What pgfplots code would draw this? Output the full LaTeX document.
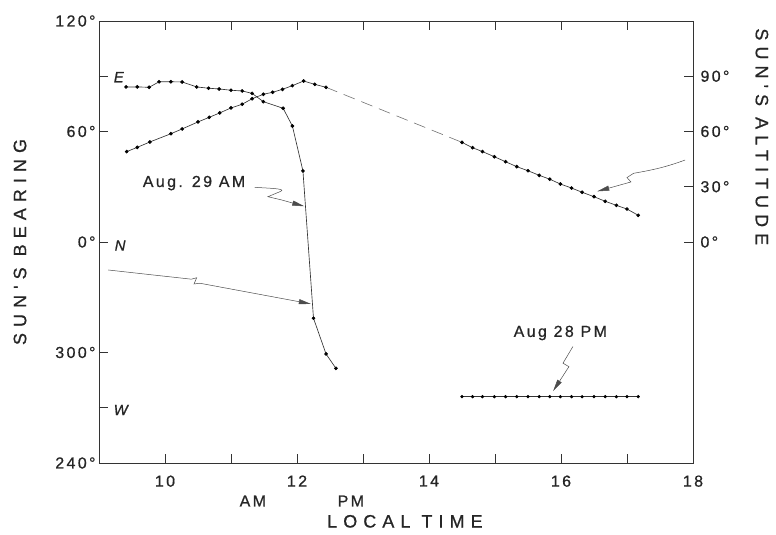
\documentclass[border=0pt]{standalone}
\usepackage{pgfplots}
\pgfplotsset{compat=1.18}
\usepackage{fontspec}
\setmainfont{Liberation Sans}[FakeBold=0.8]
\newfontfamily\tickfont[LetterSpace=15,FakeBold=0.8]{Liberation Sans}
\newfontfamily\titlefont[LetterSpace=34,FakeBold=0.8]{Liberation Sans}
\usetikzlibrary{arrows.meta}

\pgfplotstableread{
t b
9.41 84.2
9.58 84.2
9.76 84.0
9.91 87.0
10.09 87.0
10.26 86.9
10.48 84.2
10.66 83.5
10.82 83.1
11.00 82.4
11.17 82.0
11.32 80.7
11.49 76.2
11.79 72.6
11.93 63.0
12.09 38.6
12.25 -41.4
12.44 -60.8
12.59 -68.6
}\bearAM

\pgfplotstableread{
t a
9.42 49.1
9.58 51.4
9.77 54.3
10.09 58.8
10.26 61.4
10.50 65.2
10.67 67.7
10.83 70.1
11.00 72.8
11.17 74.8
11.32 77.8
11.49 80.2
11.63 81.3
11.78 82.9
11.93 84.9
12.10 87.4
12.27 85.6
12.44 84.0
}\altAM

\pgfplotstableread{
t a b
14.50 54.1 -84
14.66 51.2 -84
14.81 49.1 -84
14.99 46.3 -84
15.16 43.6 -84
15.33 40.9 -84
15.50 38.7 -84
15.67 36.2 -84
15.83 34.1 -84
15.99 31.5 -84
16.16 29.3 -84
16.32 27.0 -84
16.50 24.6 -84
16.67 22.1 -84
16.84 19.9 -84
17.00 17.9 -84
17.17 14.5 -84
}\pm

\begin{document}
\begin{tikzpicture}
\useasboundingbox (-99bp,-72bp) rectangle (677bp,463bp);
\pgfplotsset{
  common/.style={
    at={(0,0)}, anchor=south west,
    scale only axis, width=594bp, height=442bp,
    xmin=9, xmax=18, ymin=-120, ymax=120,
    tick align=inside, major tick length=9bp,
    every tick/.style={black!80, line width=0.7bp},
    tick label style={font=\tickfont\fontsize{16}{18}\selectfont, black!85},
  },
  dat/.style={black!80, line width=0.65bp, mark=*, mark size=1.5bp,
    mark options={black, solid}},
}
\begin{axis}[common,
  clip=false,
  axis line style={black!80, line width=0.8bp},
  xtick={10,...,18}, xticklabels={10,,12,,14,,16,,18},
  xtick pos=both, xticklabel pos=lower,
  ytick={-120,-90,-60,0,60,90,120},
  yticklabels={240°,,300°,0°,60°,,120°},
  ytick pos=left,
  xticklabel style={yshift=-9bp},
  ylabel={\titlefont SUN'S BEARING},
  ylabel style={at={(axis description cs:-0.133,0.5)}, anchor=center,
    font=\fontsize{18}{20}\selectfont, black!85},
]
\addplot[dat] table[x=t,y=b] {\bearAM};
\addplot[dat] table[x=t,y=a] {\altAM};
\addplot[dat] table[x=t,y=a] {\pm};
\addplot[dat, mark size=1.3bp] table[x=t,y=b] {\pm};
\addplot[black!55, line width=0.6bp, dash pattern=on 12bp off 7bp]
  coordinates {(12.44,84.0) (14.50,54.1)};

% compass letters
\node[font=\itshape\fontsize{15}{16}\selectfont, black!85] at (9.30,89.5) {E};
\node[font=\itshape\fontsize{15}{16}\selectfont, black!85] at (9.32,-1.9) {N};
\node[font=\itshape\fontsize{15}{16}\selectfont, black!85] at (9.33,-91.2) {W};

% annotations
\node[font=\tickfont\fontsize{16}{18}\selectfont, black!85] at (10.44,32.0) {Aug. 29 AM};
\draw[black!70, line width=0.5bp, -{Triangle[length=12bp,width=5bp]}]
  (11.36,29.7) to[out=-5,in=20] (11.74,27.3) -- (11.56,24.6)
  -- (11.77,22.8) -- (12.11,19.4);

\draw[black!70, line width=0.5bp, -{Triangle[length=12bp,width=5bp]}]
  (9.14,-15.2) -- (10.40,-20.2) -- (10.48,-19.4) -- (10.44,-22.8)
  -- (10.53,-22.4) -- (12.21,-33.6);

\draw[black!70, line width=0.5bp, -{Triangle[length=12bp,width=5bp]}]
  (17.88,44.5) to[out=200,in=10] (17.10,37.3) -- (17.00,35.0)
  -- (17.06,32.6) -- (16.55,27.5);

\node[font=\tickfont\fontsize{16}{18}\selectfont, black!85] at (15.99,-49.4) {Aug 28 PM};
\draw[black!70, line width=0.5bp, -{Triangle[length=12bp,width=5bp]}]
  (16.18,-56.8) -- (16.03,-65.8) -- (16.12,-67.7) -- (15.88,-81.0);

% x label and AM/PM
\node[font=\tickfont\fontsize{16}{18}\selectfont, black!85]
  at (axis description cs:0.259,-0.086) {AM};
\node[font=\tickfont\fontsize{16}{18}\selectfont, black!85]
  at (axis description cs:0.424,-0.086) {PM};
\node[font=\titlefont\fontsize{18}{20}\selectfont, black!85]
  at (axis description cs:0.515,-0.132) {LOCAL TIME};
\node[font=\titlefont\fontsize{18}{20}\selectfont, black!85, rotate=-90]
  at (axis description cs:1.116,0.738) {SUN'S ALTITUDE};
\end{axis}

\begin{axis}[common,
  axis x line=none, axis y line*=right,
  y axis line style={-, black!80, line width=0.8bp},
  ytick={0,30,60,90}, yticklabels={0°,30°,60°,90°},
  yticklabel style={xshift=4bp},
]
\end{axis}
\end{tikzpicture}
\end{document}
